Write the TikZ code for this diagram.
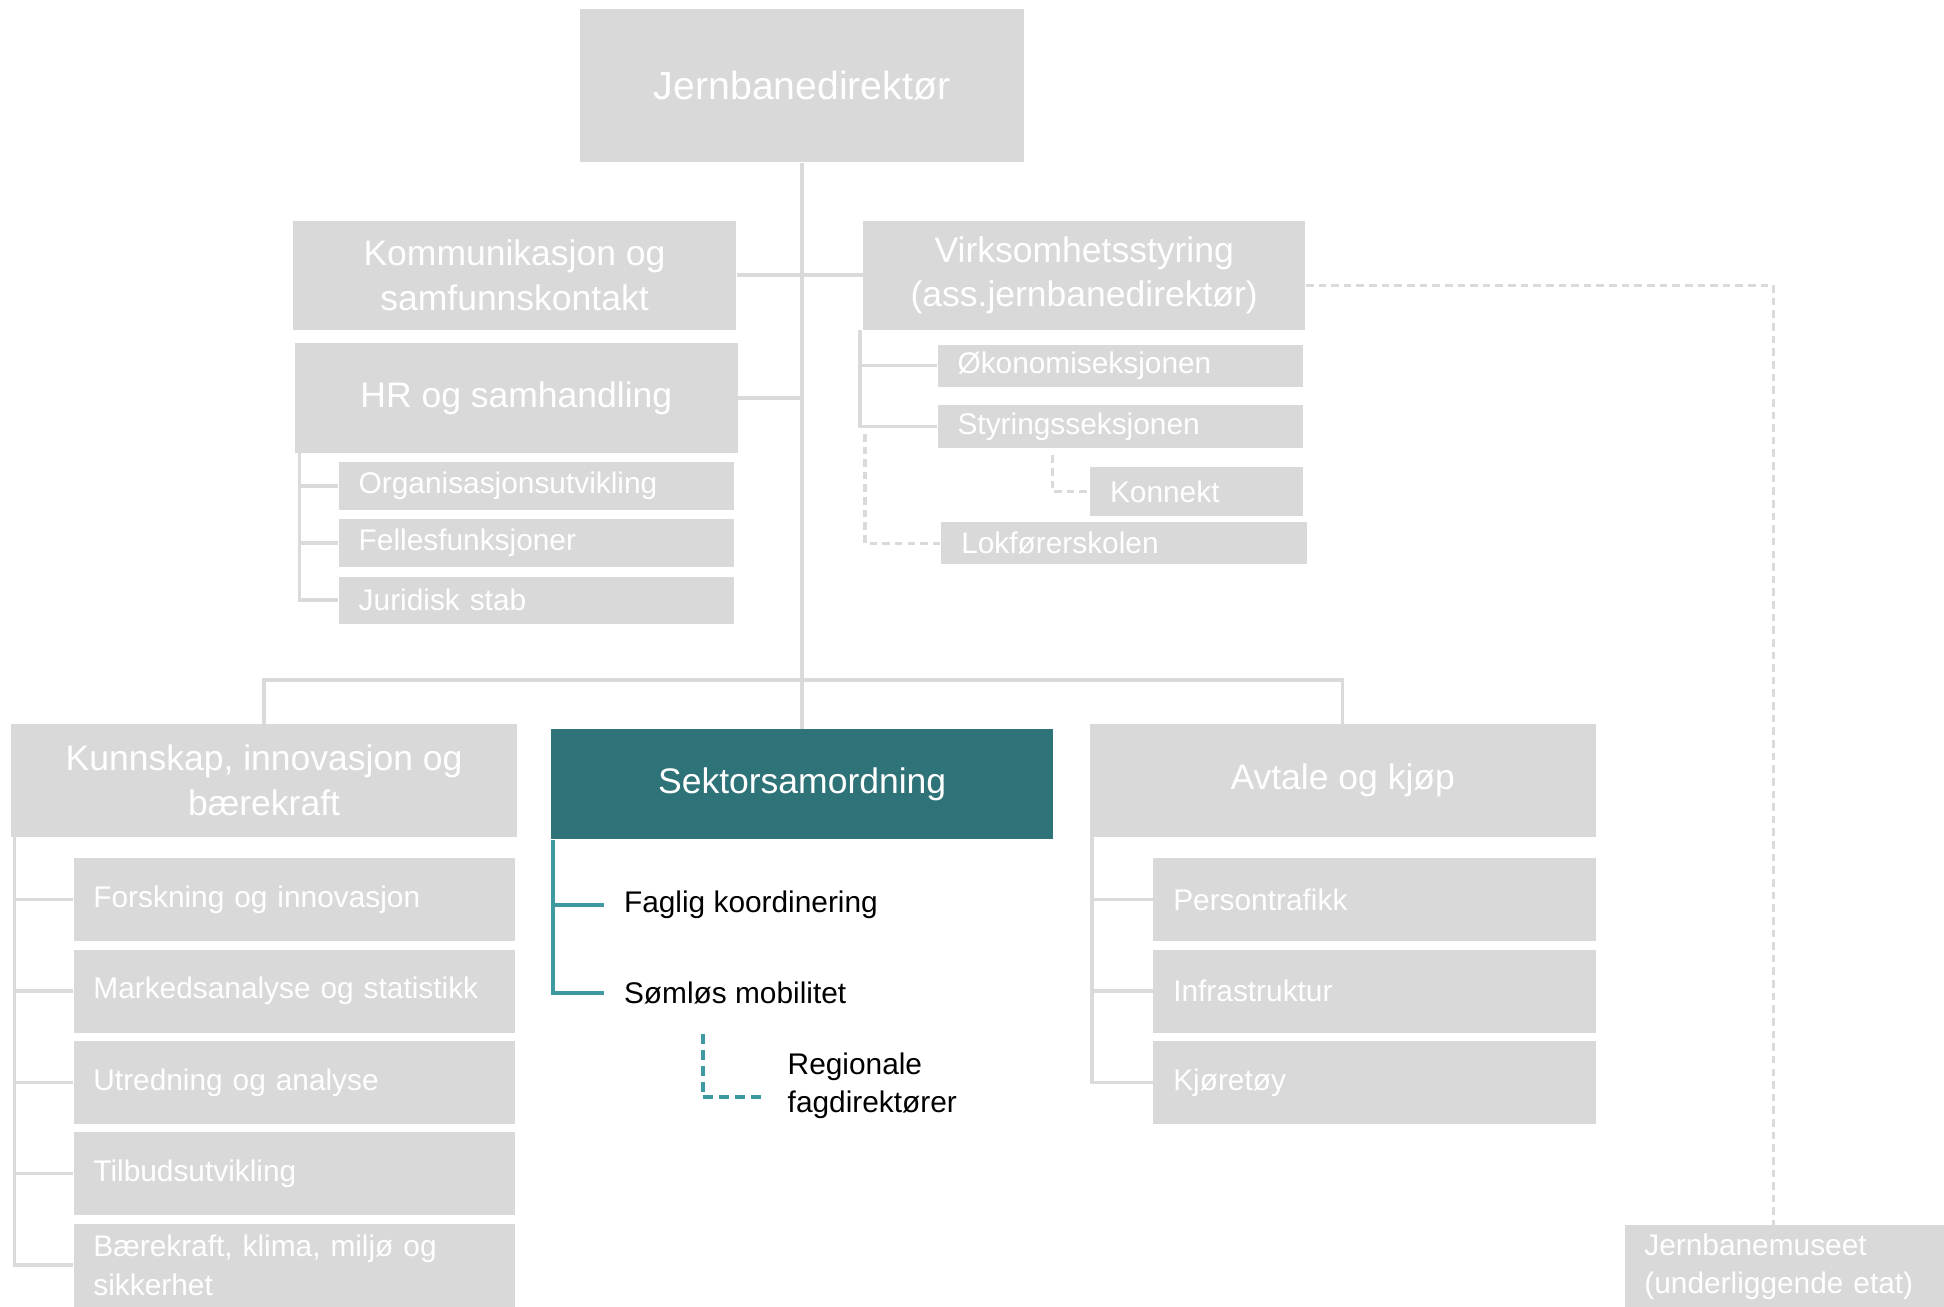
\documentclass[tikz,border=0pt]{standalone}
\usepackage{fontspec}
\setmainfont{Liberation Sans}
\usepackage{tikz}

\definecolor{boxgray}{HTML}{D9D9D9}
\definecolor{linegray}{HTML}{DADADA}
\definecolor{sektteal}{HTML}{2E7378}
\definecolor{lineteal}{HTML}{3E9AA0}

\tikzset{
  head/.style={fill=boxgray, text=white, align=center, inner sep=0pt,
    font=\fontsize{16.3}{20.5}\selectfont},
  sub/.style={fill=boxgray, text=white, align=left, anchor=west,
    inner xsep=0.32cm, inner ysep=0pt, font=\fontsize{13.7}{17.6}\selectfont},
  item/.style={anchor=west, align=left, inner xsep=0.32cm,
    font=\fontsize{13.7}{17.6}\selectfont},
  link/.style={draw=linegray, line width=1.6pt},
  dlink/.style={draw=linegray, line width=1.4pt, dash pattern=on 3.5pt off 2.3pt},
  tlink/.style={draw=lineteal, line width=1.6pt},
  tdlink/.style={draw=lineteal, line width=1.6pt, dash pattern=on 4.5pt off 2.8pt}
}

\begin{document}
\begin{tikzpicture}[x=0.02cm, y=-0.02cm]
\useasboundingbox (0,0) rectangle (1568,1054);

\node [head, minimum width=7.16cm, minimum height=2.48cm, font=\fontsize{18}{21}\selectfont] (dir) at (647,69) {Jernbanedirektør};
\node [head, minimum width=7.16cm, minimum height=1.76cm] (komm) at (415,222) {Kommunikasjon og\\samfunnskontakt};
\node [head, minimum width=7.14cm, minimum height=1.76cm] (virk) at (874.5,222) {Virksomhetsstyring\\(ass.jernbanedirektør)};
\node [head, minimum width=7.14cm, minimum height=1.76cm] (hr) at (416.5,321) {HR og samhandling};

\node [sub, text width=5.74cm, minimum height=0.76cm] (org) at (273,392) {Organisasjonsutvikling};
\node [sub, text width=5.74cm, minimum height=0.76cm] (felles) at (273,438) {Fellesfunksjoner};
\node [sub, text width=5.74cm, minimum height=0.76cm] (jur) at (273,484) {Juridisk stab};

\node [sub, text width=5.26cm, minimum height=0.68cm] (oko) at (756,295) {Økonomiseksjonen};
\node [sub, text width=5.26cm, minimum height=0.68cm] (styr) at (756,344) {Styringsseksjonen};
\node [sub, text width=2.80cm, minimum height=0.78cm] (konn) at (879,396.5) {Konnekt};
\node [sub, text width=5.26cm, minimum height=0.68cm] (lok) at (759,438) {Lokførerskolen};

\node [head, minimum width=8.16cm, minimum height=1.82cm] (kunn) at (213,629.5) {Kunnskap, innovasjon og\\bærekraft};
\node [head, fill=sektteal, minimum width=8.1cm, minimum height=1.78cm] (sekt) at (647,632.5) {Sektorsamordning};
\node [head, minimum width=8.16cm, minimum height=1.82cm] (avt) at (1083,629.5) {Avtale og kjøp};

\node [sub, text width=6.48cm, minimum height=1.34cm] (forsk) at (59,725.5) {Forskning og innovasjon};
\node [sub, text width=6.48cm, minimum height=1.34cm] (mark) at (59,799.5) {Markedsanalyse og statistikk};
\node [sub, text width=6.48cm, minimum height=1.34cm] (utr) at (59,873) {Utredning og analyse};
\node [sub, text width=6.48cm, minimum height=1.34cm] (tilb) at (59,946.5) {Tilbudsutvikling};
\node [sub, text width=6.48cm, minimum height=1.34cm] (baer) at (59,1020.5) {Bærekraft, klima, miljø og\\sikkerhet};

\node [sub, text width=6.5cm, minimum height=1.34cm] (pers) at (930,725.5) {Persontrafikk};
\node [sub, text width=6.5cm, minimum height=1.34cm] (infra) at (930,799.5) {Infrastruktur};
\node [sub, text width=6.5cm, minimum height=1.34cm] (kjor) at (930,873) {Kjøretøy};

\node [item] (fag) at (487,730) {Faglig koordinering};
\node [item] (som) at (487,801) {Sømløs mobilitet};
\node [item, inner xsep=0.38cm] (reg) at (616,876) {Regionale\\fagdirektører};

\node [sub, text width=4.52cm, minimum height=1.36cm] (mus) at (1310,1022) {Jernbanemuseet\\(underliggende etat)};

\draw [link] (dir.south) -- (sekt.north);
\draw [link] (komm.east) -- (virk.west);
\draw [link] (hr.east) -- (hr.east -| dir.south);
\draw [link] (kunn.north) -- ++(0,-35) -| (avt.north);

\draw [link] (hr.south west) ++(4,0) |- (org.west);
\draw [link] (hr.south west) ++(4,0) |- (felles.west);
\draw [link] (hr.south west) ++(4,0) |- (jur.west);

\draw [link] (virk.south west) ++(-2,0) |- (oko.west);
\draw [link] (virk.south west) ++(-2,0) |- (styr.west);
\draw [dlink] (virk.south west |- styr.west) ++(2,6) |- (lok.west);
\draw [dlink] (styr.south) ++(-55,6) |- (konn.west);
\draw [dlink] (virk.east) ++(0,8) -| ([xshift=-0.18cm]mus.north);

\draw [link] (kunn.south west) ++(3,0) |- (forsk.west);
\draw [link] (kunn.south west) ++(3,0) |- (mark.west);
\draw [link] (kunn.south west) ++(3,0) |- (utr.west);
\draw [link] (kunn.south west) ++(3,0) |- (tilb.west);
\draw [link] (kunn.south west) ++(3,0) |- (baer.west);

\draw [link] (avt.south west) ++(2,0) |- (pers.west);
\draw [link] (avt.south west) ++(2,0) |- (infra.west);
\draw [link] (avt.south west) ++(2,0) |- (kjor.west);

\draw [tlink] (sekt.south west) ++(2,0) |- (fag.west);
\draw [tlink] (sekt.south west) ++(2,0) |- (som.west);
\draw [tdlink] (som.west) ++(80,33) |- ([yshift=-0.18cm]reg.west);
\end{tikzpicture}
\end{document}
